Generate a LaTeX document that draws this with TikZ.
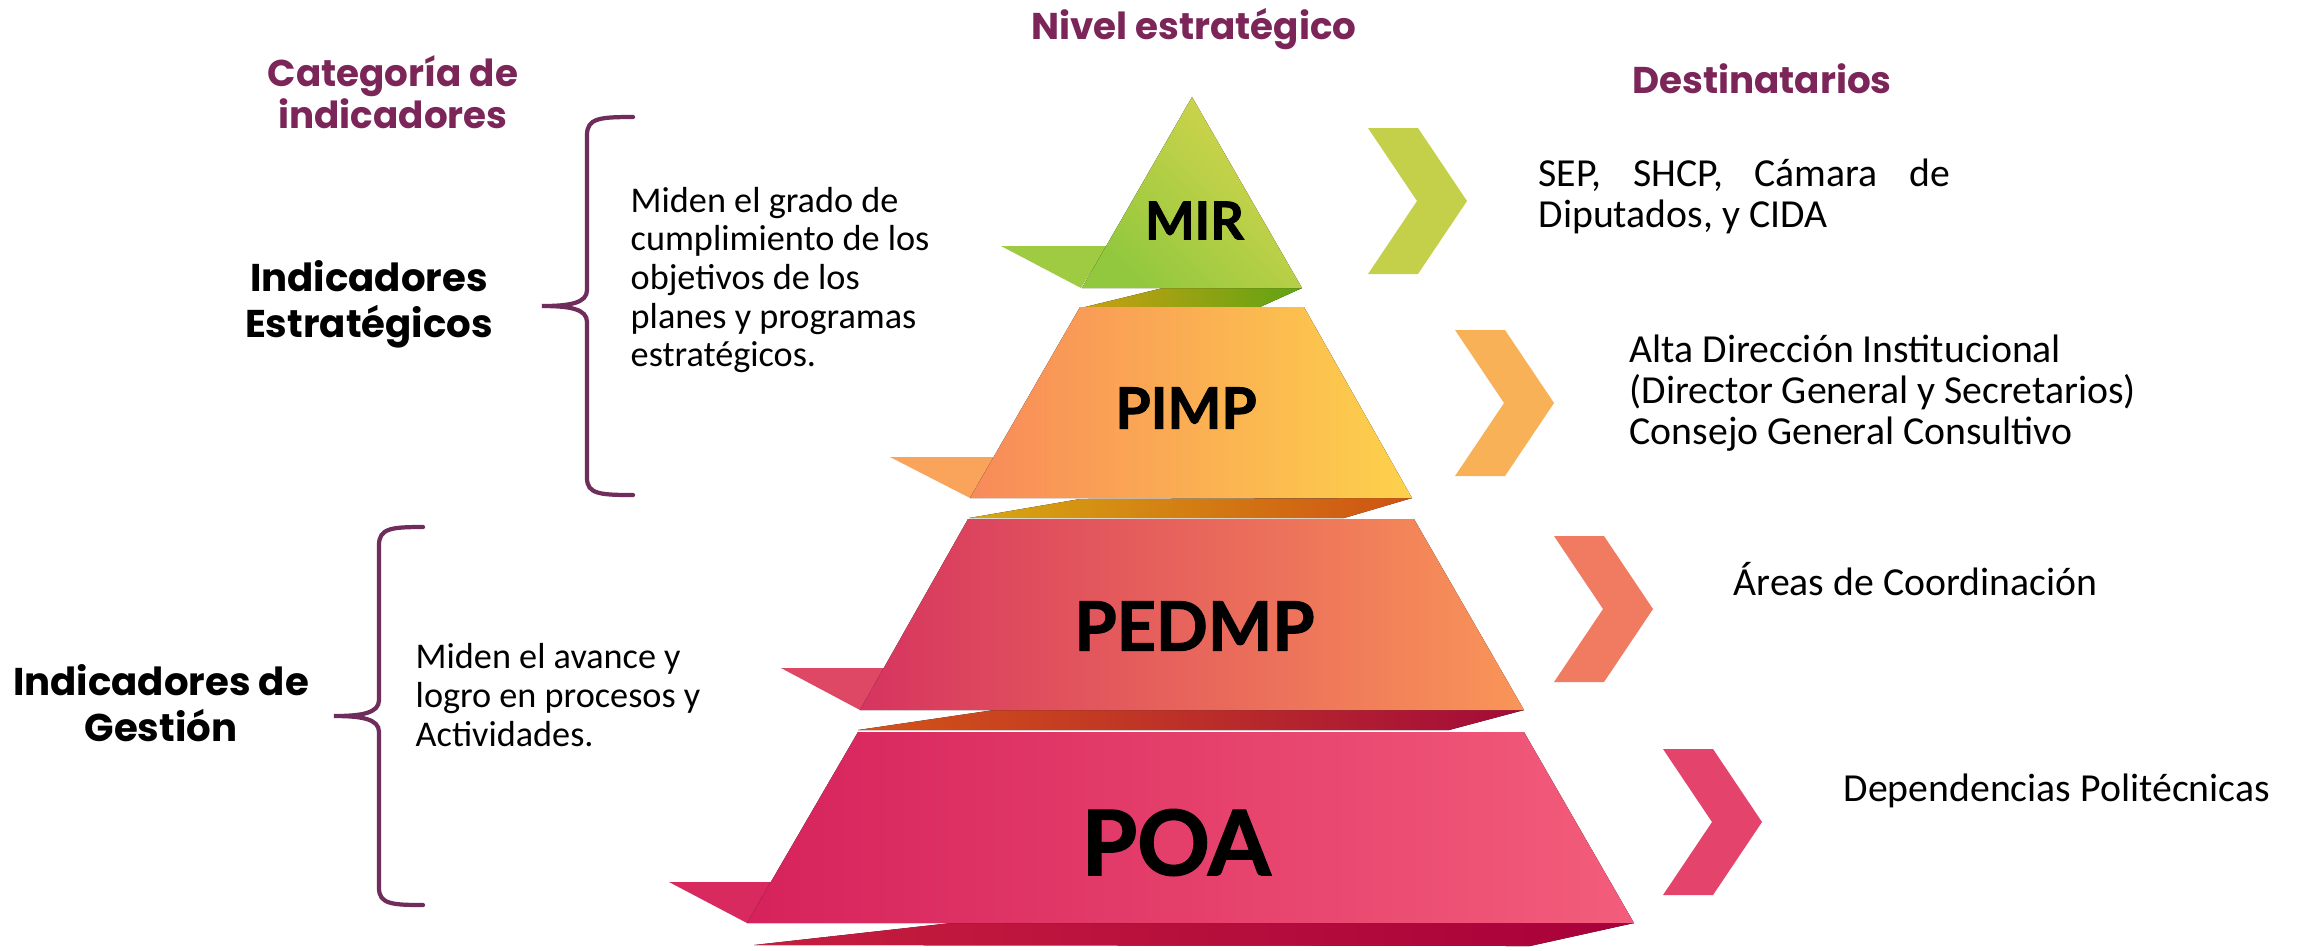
\documentclass[tikz,border=0pt]{standalone}
\usepackage{fontspec}
\setmainfont{Carlito}
\newfontfamily\headfont{Poppins}
\newfontfamily\labfont{Lato}[BoldFeatures={FakeBold=1.6}]
\definecolor{headc}{HTML}{7B2559}
\definecolor{bracec}{HTML}{6E2D5A}
\definecolor{mirA}{HTML}{92C83E}
\definecolor{mirB}{HTML}{D6D54D}
\definecolor{mirF}{HTML}{9FCB42}
\definecolor{mirSA}{HTML}{C9A012}
\definecolor{mirSB}{HTML}{5EA412}
\definecolor{pimpA}{HTML}{F88A5A}
\definecolor{pimpB}{HTML}{FDD24B}
\definecolor{pimpF}{HTML}{F9A45A}
\definecolor{pimpSA}{HTML}{D6A812}
\definecolor{pimpSB}{HTML}{CF5214}
\definecolor{pedA}{HTML}{D6345F}
\definecolor{pedB}{HTML}{F99658}
\definecolor{pedF}{HTML}{DE4864}
\definecolor{pedSA}{HTML}{D45417}
\definecolor{pedSB}{HTML}{A30A3A}
\definecolor{poaA}{HTML}{D6225C}
\definecolor{poaB}{HTML}{F35D7B}
\definecolor{poaF}{HTML}{D92A60}
\definecolor{poaSA}{HTML}{C61E3E}
\definecolor{poaSB}{HTML}{A8003A}
\definecolor{chA}{HTML}{C5D04A}
\definecolor{chB}{HTML}{F9B158}
\definecolor{chC}{HTML}{F07B61}
\definecolor{chD}{HTML}{E4436C}
\newcommand\mychev[3]{\fill[#3] (#1,#2) -- ++(50,0) -- ++(49,73) -- ++(-49,73) -- ++(-50,0) -- ++(49,-73) -- cycle;}
\begin{document}
\begin{tikzpicture}[x=0.01cm,y=-0.01cm,
  headtxt/.style={font=\headfont\bfseries\fontsize{10.6pt}{12pt}\selectfont, text=headc, align=center, inner sep=0pt},
  cattxt/.style={font=\headfont\bfseries\fontsize{11pt}{13pt}\selectfont, align=center, inner sep=0pt},
  desctxt/.style={font=\fontsize{10.3pt}{11pt}\selectfont, align=left, anchor=west, inner sep=0pt},
  desttxt/.style={font=\fontsize{11.3pt}{11.7pt}\selectfont, align=left, anchor=west, inner sep=0pt},
  lvltxt/.style={inner sep=0pt},
  bracepath/.style={draw=bracec, line width=1.2pt, line cap=round}]
\useasboundingbox (0,0) rectangle (2297,950);
\fill[white] (0,0) rectangle (2297,950);

% flaps
\fill[mirF] (1001,246) -- (1107,246) -- (1081,288) -- cycle;
\fill[pimpF] (890,457) -- (994,457) -- (970,498) -- cycle;
\fill[pedF] (781,668) -- (884,668) -- (860,710) -- cycle;
\fill[poaF] (669,882) -- (771,882) -- (747,923) -- cycle;

% shadows
\fill[left color=mirSA, right color=mirSB] (1163,288) -- (1302,288) -- (1260,307) -- (1085,307) -- cycle;
\fill[left color=pimpSA, right color=pimpSB] (1080,499) -- (1412,498) -- (1344,518) -- (969,518) -- cycle;
\fill[left color=pedSA, right color=pedSB] (994,710) -- (1524,710) -- (1449,730) -- (858,730) -- cycle;
\fill[left color=poaSA, right color=poaSB] (951,923) -- (1634,923) -- (1530,946) -- (754,945) -- cycle;

% levels
\fill[top color=mirB, bottom color=mirA, shading angle=-45] (1192,97) -- (1302,288) -- (1082,288) -- cycle;
\fill[left color=pimpA, right color=pimpB] (1080,307) -- (1304,307) -- (1412,498) -- (970,498) -- cycle;
\fill[left color=pedA, right color=pedB] (968,519) -- (1414,519) -- (1524,710) -- (860,710) -- cycle;
\fill[left color=poaA, right color=poaB] (858,732) -- (1524,732) -- (1634,923) -- (747,923) -- cycle;

\node[lvltxt, font=\labfont\bfseries\fontsize{14.9pt}{16pt}\selectfont] (mir) at (1194.5,220.5) {MIR};
\node[lvltxt, font=\labfont\bfseries\fontsize{16.2pt}{18pt}\selectfont] (pimp) at (1186,408) {PIMP};
\node[lvltxt, font=\labfont\bfseries\fontsize{19.4pt}{21pt}\selectfont] (pedmp) at (1194.5,626) {PEDMP};
\node[lvltxt, font=\labfont\bfseries\fontsize{25.6pt}{27pt}\selectfont] (poa) at (1176,842.5) {POA};

% chevrons
\mychev{1368}{128}{chA}
\mychev{1455}{330}{chB}
\mychev{1554}{536}{chC}
\mychev{1663}{749}{chD}

% headings
\node[headtxt] (nivel) at (1194,29) {Nivel estratégico};
\node[headtxt] (categ) at (393,92) {Categoría de\\indicadores};
\node[headtxt] (dest) at (1762,79) {Destinatarios};

\node[cattxt] (estr) at (369,304) {Indicadores\\Estratégicos};
\node[cattxt] (gest) at (161,703) {Indicadores de\\Gestión};

% braces
\draw[bracepath] (633,117) .. controls (600,117) and (587,118) .. (587,135) -- (587,290) .. controls (587,303) and (570,306) .. (542,306) .. controls (570,306) and (587,309) .. (587,322) -- (587,478) .. controls (587,494) and (600,495) .. (633,495);
\draw[bracepath] (423,527) .. controls (392,527) and (379,528) .. (379,545) -- (379,700) .. controls (379,713) and (362,716) .. (334,716) .. controls (362,716) and (379,719) .. (379,732) -- (379,888) .. controls (379,904) and (392,905) .. (423,905);

% descriptions
\node[desctxt] (d1) at (630,280) {Miden el grado de\\cumplimiento de los\\objetivos de los\\planes y programas\\estratégicos.};
\node[desctxt] (d2) at (415,695) {Miden el avance y\\logro en procesos y\\Actividades.};

% destinatarios
\node[desttxt, text width=4.11cm, align=justify] (r1) at (1538,196) {\tolerance=10000\hyphenpenalty=10000 SEP, SHCP, Cámara de Diputados, y CIDA};
\node[desttxt] (r2) at (1629,393) {Alta Dirección Institucional\\(Director General y Secretarios)\\Consejo General Consultivo};
\node[desttxt] (r3) at (1733,579) {Áreas de Coordinación};
\node[desttxt] (r4) at (1843,791) {Dependencias Politécnicas};
\end{tikzpicture}
\end{document}
